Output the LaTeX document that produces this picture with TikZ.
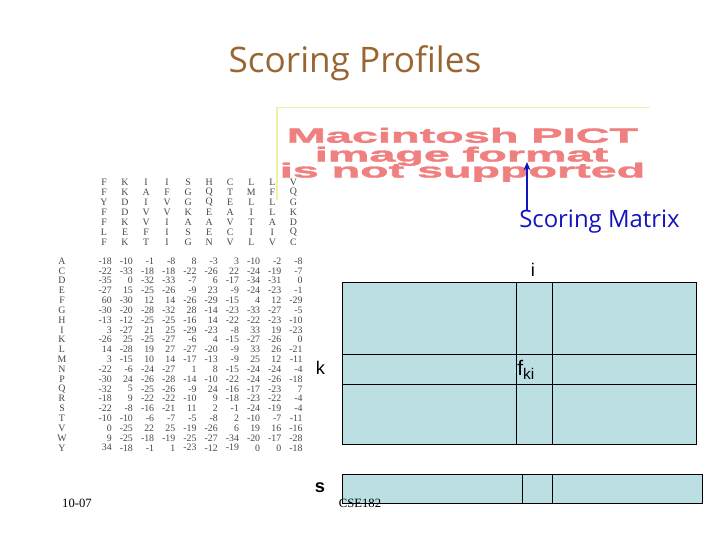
\documentclass[tikz,border=0pt]{standalone}
\usepackage{fontspec}
\setmainfont{Liberation Serif}
\newfontfamily\handfont{Open Sans}
\newfontfamily\labelfont{Liberation Sans}
\newfontfamily\pictfont{Liberation Sans Bold}[FakeBold=1.5]
\usetikzlibrary{arrows.meta}

\definecolor{titlebrown}{RGB}{153,102,51}
\definecolor{pictred}{RGB}{240,128,128}
\definecolor{pictframe}{RGB}{240,240,170}
\definecolor{arrowblue}{RGB}{20,20,190}
\definecolor{cellblue}{RGB}{188,223,227}
\definecolor{tablegray}{RGB}{70,70,70}

\tikzset{
  tabletext/.style={inner sep=0pt, text=tablegray, font=\fontsize{7}{8}\selectfont},
  pictline/.style={inner sep=0pt, anchor=base, text=pictred, font=\pictfont},
  letter/.style={inner sep=0pt, font=\labelfont\fontsize{13}{15}\selectfont},
  matrixcells/.style={draw=black, line width=0.7pt, fill=cellblue},
  footer/.style={inner sep=0pt, font=\fontsize{9}{11}\selectfont},
}

\begin{document}
\begin{tikzpicture}[x=0.025cm, y=-0.025cm]
\useasboundingbox (0,0) rectangle (720,540);

\node (title) [text=titlebrown, font=\handfont\fontsize{25}{29}\selectfont] at (355,63) {Scoring Profiles};

% picture that could not be shown
\draw [pictframe, line width=0.8pt] (277,200) -- (277,107.5) -- (650,107.5);
\node (pict1) [pictline] at (462.5,142.7) {\resizebox{8.78cm}{0.37cm}{Macintosh PICT}};
\node (pict2) [pictline] at (461.5,161.5) {\resizebox{7.33cm}{0.37cm}{image format}};
\node (pict3) [pictline] at (462.5,177.5) {\resizebox{9.13cm}{0.37cm}{is not supported}};

% aligned sequences
\foreach \seq [count=\r] in {{F,K,I,I,S,H,C,L,L,V},{F,K,A,F,G,Q,T,M,F,Q},{Y,D,I,V,G,Q,E,L,L,G},
    {F,D,V,V,K,E,A,I,L,K},{F,K,V,I,A,A,V,T,A,D},{L,E,F,I,S,E,C,I,I,Q},{F,K,T,I,G,N,V,L,V,C}} {
  \foreach \ch [count=\c] in \seq
    \node (h-\r-\c) [tabletext] at ({104+(\c-1)*21.04},{182+(\r-1)*10}) {\ch};
}

% profile scores
\foreach \aa/\vals [count=\r] in {
    A/{-18,-10,-1,-8,8,-3,3,-10,-2,-8},
    C/{-22,-33,-18,-18,-22,-26,22,-24,-19,-7},
    D/{-35,0,-32,-33,-7,6,-17,-34,-31,0},
    E/{-27,15,-25,-26,-9,23,-9,-24,-23,-1},
    F/{60,-30,12,14,-26,-29,-15,4,12,-29},
    G/{-30,-20,-28,-32,28,-14,-23,-33,-27,-5},
    H/{-13,-12,-25,-25,-16,14,-22,-22,-23,-10},
    I/{3,-27,21,25,-29,-23,-8,33,19,-23},
    K/{-26,25,-25,-27,-6,4,-15,-27,-26,0},
    L/{14,-28,19,27,-27,-20,-9,33,26,-21},
    M/{3,-15,10,14,-17,-13,-9,25,12,-11},
    N/{-22,-6,-24,-27,1,8,-15,-24,-24,-4},
    P/{-30,24,-26,-28,-14,-10,-22,-24,-26,-18},
    Q/{-32,5,-25,-26,-9,24,-16,-17,-23,7},
    R/{-18,9,-22,-22,-10,9,-18,-23,-22,-4},
    S/{-22,-8,-16,-21,11,2,-1,-24,-19,-4},
    T/{-10,-10,-6,-7,-5,-8,2,-10,-7,-11},
    V/{0,-25,22,25,-19,-26,6,19,16,-16},
    W/{9,-25,-18,-19,-25,-27,-34,-20,-17,-28},
    Y/{34,-18,-1,1,-23,-12,-19,0,0,-18}} {
  \node (aa-\r) [tabletext] at (62,{261+(\r-1)*9.83}) {\aa};
  \foreach \v [count=\c] in \vals
    \node (m-\r-\c) [tabletext, anchor=east] at ({112+(\c-1)*21.2},{261+(\r-1)*9.83}) {\v};
}

\node (smlabel) [text=arrowblue, inner sep=0pt, anchor=west, font=\handfont\fontsize{17}{20}\selectfont] at (519,222) {Scoring Matrix};
\coordinate (pointed) at (527,162);
\draw [arrowblue, line width=1pt, -{Stealth[length=6pt,width=5pt]}] (smlabel.north -| pointed) -- (pointed);

% profile matrix
\draw [matrixcells] (342.7,282.3) rectangle (696.7,444);
\draw [line width=0.7pt] (516.7,282.3) -- (516.7,444) (552.3,282.3) -- (552.3,444);
\draw [line width=0.7pt] (342.7,354.3) -- (696.7,354.3) (342.7,384.3) -- (696.7,384.3);

\draw [matrixcells] (342.7,474) rectangle (702.3,503.3);
\draw [line width=0.7pt] (522.3,474) -- (522.3,503.3) (552.3,474) -- (552.3,503.3);

\node (ilabel) [letter] at (533,270) {i};
\node (klabel) [letter] at (320.5,368) {k};
\node (fki) [letter, anchor=base west, font=\labelfont\fontsize{15}{17}\selectfont] at (517,375) {f\raisebox{-0.4ex}{\fontsize{11}{13}\selectfont ki}};
\node (slabel) [letter, font=\labelfont\bfseries\fontsize{13}{15}\selectfont] at (320,488) {s};

\node (date) [footer] at (77,503) {10-07};
\node (course) [footer] at (360,503) {CSE182};
\end{tikzpicture}
\end{document}
